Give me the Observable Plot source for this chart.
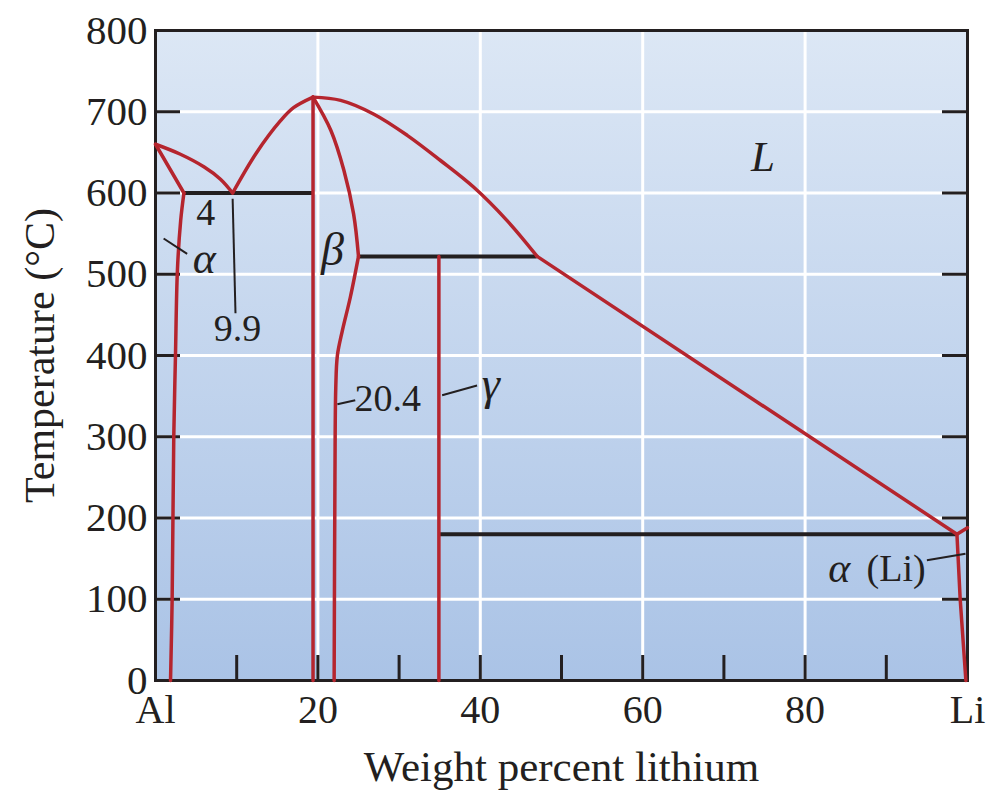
<!DOCTYPE html>
<html>
<head>
<meta charset="utf-8">
<script src="https://cdn.jsdelivr.net/npm/d3@7"></script>
<script src="https://cdn.jsdelivr.net/npm/@observablehq/plot@0.6"></script>
<style>
  html, body { margin: 0; padding: 0; background: #fff; }
  #chart { width: 1000px; height: 793px; }
</style>
</head>
<body>
<div id="chart"></div>
<script>
// ---- Data (weight percent Li, temperature °C) ----
const xLabelTicks = [0, 20, 40, 60, 80, 100];
const xTickLabels = ["Al", "20", "40", "60", "80", "Li"];
const xMinorTicks = [10, 20, 30, 40, 50, 60, 70, 80, 90];
const xGrid = [20, 40, 60, 80];
const yTicks = [0, 100, 200, 300, 400, 500, 600, 700, 800];
const yGrid = [100, 200, 300, 400, 500, 600, 700];
const ySideTicks = [100, 200, 300, 400, 500, 600, 700];

// red phase boundaries
const liquidusAl = [[0, 660], [3, 648], [6, 632], [8, 617], [9.5, 600]];
const liquidusBetaLeft = [[9.5, 600], [12.4, 649], [15.4, 689], [17, 705], [19.4, 718]];
const liquidusBetaRight = [[19.4, 718], [22.8, 714], [26.9, 697], [31, 671], [35.1, 640], [39.2, 607], [43.3, 566], [47, 522]];
const liquidusLi = [[47, 522], [98.7, 180]];
const liMelt = [[98.7, 180], [100, 188]];
const solvusAlTop = [[0, 660], [3.5, 600]];
const solvusAl = [[3.5, 600], [3.1, 566], [2.7, 505], [2.46, 400], [2.25, 300], [2.05, 100], [1.85, 0]];
const betaLeft = [[19.4, 718], [19.4, 0]];
const betaRightTop = [[19.4, 718], [21.6, 677], [23.2, 628], [24.4, 574], [25.0, 522]];
const betaRightBottom = [[25.0, 522], [24.0, 472], [23.0, 430], [22.4, 400], [22.2, 360], [22.1, 250], [22.0, 0]];
const gammaLine = [[34.9, 522], [34.9, 0]];
const solvusLi = [[98.7, 180], [99.1, 100], [99.8, 0]];

// black invariant lines [x1, x2, T]
const invariants = [[3.5, 19.4, 600], [25.0, 47.0, 522], [34.9, 98.7, 180]];

// labels
const italicLabels = [
  {x: 74.8, y: 644, text: "L", size: 43},
  {x: 6.0, y: 519, text: "α", size: 44},
  {x: 21.8, y: 529, text: "β", size: 46},
  {x: 41.3, y: 364, text: "γ", size: 46}
];
const romanLabels = [
  {x: 6.2, y: 575, text: "4", size: 38},
  {x: 10.1, y: 433, text: "9.9", size: 38},
  {x: 28.6, y: 347, text: "20.4", size: 38},
  {x: 91.2, y: 138, text: "(Li)", size: 38}
];
const alphaLi = [{x: 84.2, y: 138, text: "α", size: 42}];
// leader lines [x1, y1, x2, y2]
const leaders = [
  [1.0, 544, 3.9, 525],
  [9.5, 593, 9.85, 452],
  [22.4, 340, 24.6, 345],
  [35.3, 351, 39.6, 363],
  [95.0, 148, 99.75, 156]
];

const RED = "#b5252e";
const INK = "#231f20";
const FONT = "'Liberation Serif', 'Times New Roman', serif";

const boundaries = [liquidusAl, liquidusBetaLeft, liquidusBetaRight, betaRightTop, betaRightBottom, solvusAl];
const straight = [liquidusLi, liMelt, solvusAlTop, betaLeft, gammaLine, solvusLi];

const plot = Plot.plot({
  width: 1000,
  height: 793,
  marginLeft: 155,
  marginRight: 33,
  marginTop: 30,
  marginBottom: 113,
  x: {domain: [0, 100]},
  y: {domain: [0, 800]},
  style: {fontFamily: FONT, color: INK, background: "#fff", overflow: "visible"},
  marks: [
    Plot.frame({fill: "url(#bgGrad)"}),
    Plot.ruleX(xGrid, {stroke: "#fff", strokeWidth: 3}),
    Plot.ruleY(yGrid, {stroke: "#fff", strokeWidth: 3}),
    Plot.tickX(xMinorTicks, {x: d => d, stroke: INK, strokeWidth: 3, insetTop: 625}),
    Plot.tickY(ySideTicks, {y: d => d, stroke: INK, strokeWidth: 3, insetRight: 787}),
    Plot.tickY(ySideTicks, {y: d => d, stroke: INK, strokeWidth: 3, insetLeft: 787}),
    Plot.frame({stroke: INK, strokeWidth: 3}),
    Plot.axisX(xLabelTicks, {
      tickSize: 0, tickPadding: 14, fontSize: 40, label: null,
      tickFormat: d => xTickLabels[xLabelTicks.indexOf(d)]
    }),
    Plot.axisY(yTicks, {tickSize: 0, tickPadding: 8, fontSize: 41, label: null}),
    Plot.text(["Weight percent lithium"], {frameAnchor: "bottom", dy: 100, fontSize: 43, text: d => d}),
    Plot.text(["Temperature (°C)"], {frameAnchor: "left", textAnchor: "middle", dx: -115, rotate: -90, fontSize: 42, text: d => d}),
    // invariant lines
    Plot.ruleY(invariants, {x1: d => d[0], x2: d => d[1], y: d => d[2], stroke: INK, strokeWidth: 4}),
    // phase boundaries
    ...boundaries.map(pts => Plot.line(pts, {x: d => d[0], y: d => d[1], stroke: RED, strokeWidth: 3.5, curve: "catmull-rom"})),
    ...straight.map(pts => Plot.line(pts, {x: d => d[0], y: d => d[1], stroke: RED, strokeWidth: 3.5})),
    // leader lines
    Plot.link(leaders, {x1: d => d[0], y1: d => d[1], x2: d => d[2], y2: d => d[3], stroke: INK, strokeWidth: 2}),
    // labels
    Plot.text(italicLabels, {x: "x", y: "y", text: "text", fontSize: "size", fontStyle: "italic", fill: INK}),
    Plot.text(alphaLi, {x: "x", y: "y", text: "text", fontSize: "size", fontStyle: "italic", fill: INK}),
    Plot.text(romanLabels, {x: "x", y: "y", text: "text", fontSize: "size", fill: INK})
  ]
});

const svg = d3.select(plot);
const defs = svg.insert("defs", ":first-child");
const grad = defs.append("linearGradient").attr("id", "bgGrad").attr("x1", 0).attr("y1", 0).attr("x2", 0).attr("y2", 1);
grad.append("stop").attr("offset", "0%").attr("stop-color", "#dce7f5");
grad.append("stop").attr("offset", "100%").attr("stop-color", "#aac3e6");

document.getElementById("chart").appendChild(plot);
</script>
</body>
</html>
